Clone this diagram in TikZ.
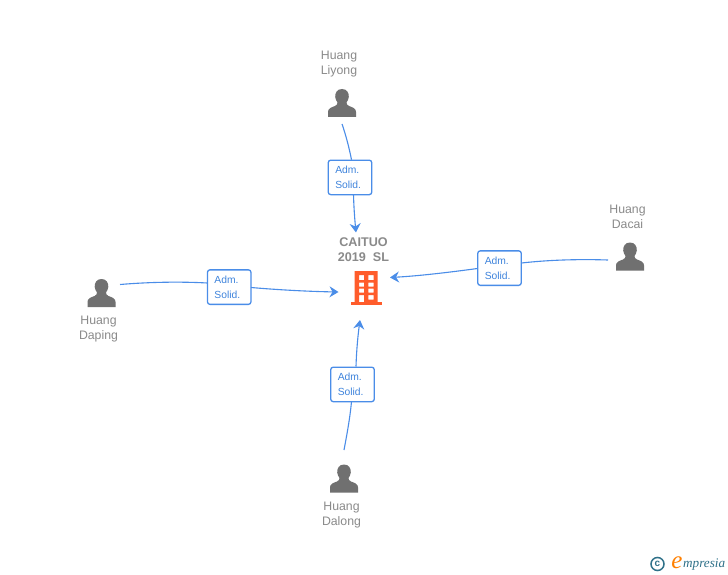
\documentclass[tikz,border=0pt]{standalone}
\usepackage{fontspec}
\setmainfont{Liberation Sans}
\newfontfamily\logofont{Liberation Serif}
\definecolor{linkblue}{HTML}{4A8DE8}
\definecolor{boxtext}{HTML}{3F84DC}
\definecolor{persongray}{HTML}{707070}
\definecolor{labelgray}{HTML}{8A8A8A}
\definecolor{bldorange}{HTML}{FF5C2B}
\definecolor{logoteal}{HTML}{2F7189}
\usetikzlibrary{arrows.meta}
\tikzset{
  x=1pt,y=-1pt,
  link/.style={draw=linkblue,line width=1.1pt},
  linkarrow/.style={link,-{Stealth[length=9pt,width=11pt,inset=3pt]}},
  admbox/.style={draw=linkblue,line width=1.3pt,rounded corners=2.5pt,fill=white,minimum width=43.5pt,minimum height=34.5pt,inner sep=0pt,text=boxtext,font=\fontsize{10.3}{15}\selectfont,align=left,text width=29.5pt},
  namelabel/.style={text=labelgray,font=\fontsize{12.3}{15}\selectfont,align=center,inner sep=0pt},
  titlelabel/.style={text=labelgray,font=\bfseries\fontsize{12.6}{15}\selectfont,align=center,inner sep=0pt},
  personicon/.pic={
    \fill[persongray] (0,-14) .. controls (-5,-14) and (-7,-10) .. (-6.8,-6) .. controls (-6.5,-3.5) and (-5.5,-2) .. (-4.5,-0.5)
      .. controls (-4.5,1) and (-5,2) .. (-7,3) .. controls (-11,4.5) and (-14,5.5) .. (-14,9) -- (-14,14) -- (14,14) -- (14,9)
      .. controls (14,5.5) and (11,4.5) .. (7,3) .. controls (5,2) and (4.5,1) .. (4.5,-0.5)
      .. controls (5.5,-2) and (6.5,-3.5) .. (6.8,-6) .. controls (7,-10) and (5,-14) .. (0,-14) -- cycle;
  }
}
\begin{document}
\begin{tikzpicture}
\useasboundingbox (0,0) rectangle (728,575);
\fill[white] (0,0) rectangle (728,575);

% labels
\node[namelabel] (liyongtxt) at (339,64.5) {Huang\\Liyong};
\node[namelabel] (dacaitxt) at (627.5,216.5) {Huang\\Dacai};
\node[namelabel] (dapingtxt) at (98.5,329.5) {Huang\\Daping};
\node[namelabel] (dalongtxt) at (341.5,515) {Huang\\Dalong};
\node[titlelabel] (titletxt) at (363.5,250) {CAITUO\\2019\hspace{0.55em}SL};

% persons
\pic at (342,103) {personicon};
\pic at (630,256.5) {personicon};
\pic at (101.5,293) {personicon};
\pic at (344,478.5) {personicon};

% building
\fill[bldorange,even odd rule] (354.7,271) rectangle (377.5,302)
  (359,275) rectangle (364,280) (368.3,275) rectangle (373.5,280)
  (359,282.5) rectangle (364,286.5) (368.3,282.5) rectangle (373.5,286.5)
  (359,288.5) rectangle (364,292.5) (368.3,288.5) rectangle (373.5,292.5)
  (359,295) rectangle (364,302) (368.3,295) rectangle (373.5,299.5);
\fill[bldorange] (350.7,302) rectangle (382.3,305);
\coordinate (bldtop) at (356,232.5);
\coordinate (bldright) at (390,277.5);
\coordinate (bldleft) at (338.5,292);
\coordinate (bldbottom) at (360,320);

% free ends
\coordinate (liyongend) at (342,124);
\coordinate (dacaiend) at (608,260);
\coordinate (dapingend) at (120,284.5);
\coordinate (dalongend) at (344,450);

% boxes
\node[admbox] (boxa) at (350,177.4) {Adm.\\Solid.};
\node[admbox] (boxb) at (499.5,268.1) {Adm.\\Solid.};
\node[admbox] (boxc) at (229.2,287.1) {Adm.\\Solid.};
\node[admbox] (boxd) at (352.5,384.4) {Adm.\\Solid.};

% connectors
\draw[link] (liyongend) .. controls (345.5,134) and (349,147) .. (351.5,159.7);
\draw[linkarrow] (353.5,194.5) .. controls (353.8,207) and (354.8,220) .. (bldtop);
\draw[link] (dacaiend) .. controls (578,259) and (548,260) .. (521.5,263);
\draw[linkarrow] (477.5,268.5) .. controls (448,272.5) and (418,276) .. (bldright);
\draw[link] (dapingend) .. controls (150,282) and (180,281.5) .. (207.5,283);
\draw[linkarrow] (251,287.5) .. controls (280,290) and (310,291.5) .. (bldleft);
\draw[link] (dalongend) .. controls (347,434) and (350,418) .. (351.5,401.5);
\draw[linkarrow] (356,366.5) .. controls (356.5,350) and (358,335) .. (bldbottom);

% logo
\draw[logoteal,line width=1.5pt] (657.5,564) circle (6.5);
\node[text=logoteal,inner sep=0pt,font=\bfseries\fontsize{10}{10}\selectfont] (logoc) at (657.5,563.5) {c};
\node[text=orange,inner sep=0pt,font=\logofont\itshape\fontsize{25}{25}\selectfont] (logoe) at (677,562.5) {e};
\node[text=logoteal,inner sep=0pt,anchor=west,font=\logofont\itshape\fontsize{13.2}{14}\selectfont] (logotxt) at (683,565) {mpresia};
\end{tikzpicture}
\end{document}
